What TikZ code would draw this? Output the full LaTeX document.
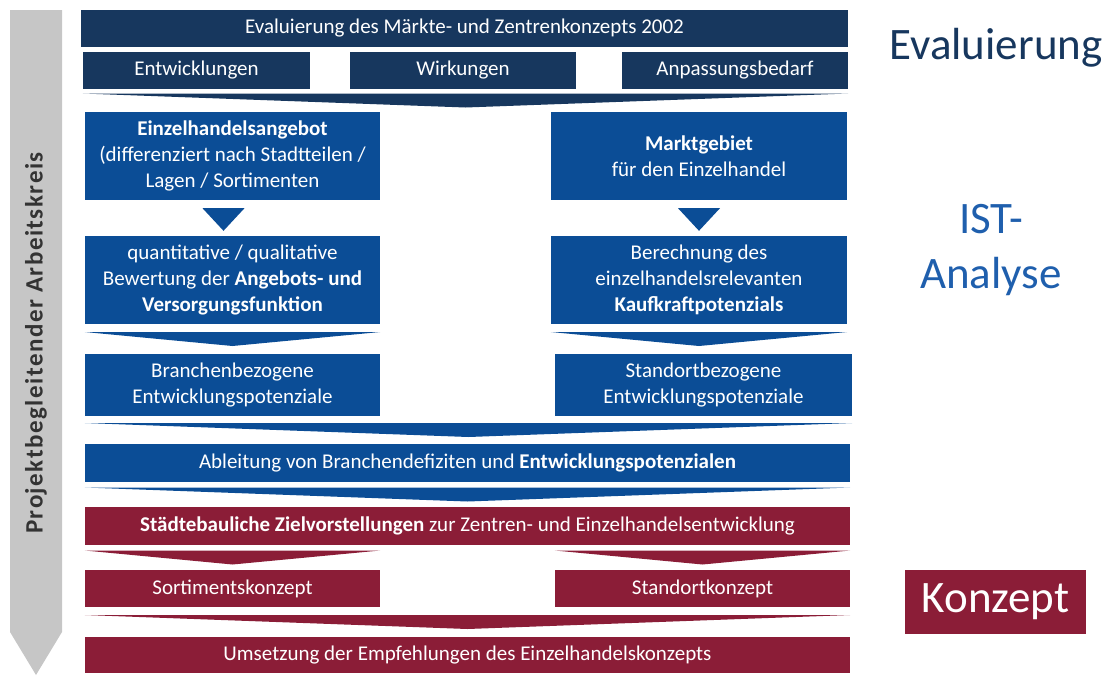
\documentclass[tikz,border=0pt]{standalone}
\usepackage{fontspec}
\setmainfont{Carlito}
\usepackage{tikz}
\usetikzlibrary{calc}

\definecolor{evalblue}{HTML}{17375E}
\definecolor{istblue}{HTML}{0B4D96}
\definecolor{isttext}{HTML}{1F5FAD}
\definecolor{konzred}{HTML}{8B1D37}
\definecolor{arrowgrey}{HTML}{C6C6C6}

% chevron: colour, left node, right node (x extent), upper node, lower node
\newcommand{\chev}[5]{%
  \path (#2.west |- #4.south) coordinate (ca) (#3.east |- #4.south) coordinate (cb)
        (#2.west |- #5.north) coordinate (cc) (#3.east |- #5.north) coordinate (cd);
  \fill[#1] ($(ca)!.5!(cc)+(0,-7)$) -- ($(cb)!.5!(cd)+(0,-7)$) -- ($(ca)!.5!(cd)+(0,7)$) -- cycle;}
% small triangle between two boxes, with x offset
\newcommand{\tri}[3]{%
  \fill[istblue] ([xshift=#3-21pt,yshift=-8pt]#1.south) -- ([xshift=#3+21pt,yshift=-8pt]#1.south)
        -- ([xshift=#3,yshift=5pt]#2.north) -- cycle;}

\begin{document}
\begin{tikzpicture}[x=1pt,y=-1pt,
    box/.style={fill=#1, text=white, inner sep=0pt, align=center, font=\fontsize{21}{26}\selectfont},
    big/.style={font=\fontsize{45}{55}\selectfont, align=center, inner sep=0pt}]
  \useasboundingbox (0,0) rectangle (1106,675);
  \fill[arrowgrey] (10,10) -- (62,10) -- (62,632) -- (36,675) -- (10,632) -- cycle;
  \node[rotate=90, font=\fontsize{25}{30}\selectfont\bfseries\addfontfeatures{LetterSpace=6}, text=black!80] (ak) at (36,343) {Projektbegleitender Arbeitskreis};

  \node[box=evalblue, minimum width=767, minimum height=37] (eval) at (464.5,28.5) {Evaluierung des Märkte- und Zentrenkonzepts 2002};
  \node[box=evalblue, minimum width=227, minimum height=37] (ent) at (196.5,70.5) {Entwicklungen};
  \node[box=evalblue, minimum width=226, minimum height=37] (wir) at (463,70.5) {Wirkungen};
  \node[box=evalblue, minimum width=226, minimum height=37] (anp) at (735,70.5) {Anpassungsbedarf};

  \node[box=istblue, minimum width=295, minimum height=88] (ange) at (232.5,156) {\textbf{Einzelhandelsangebot}\\(differenziert nach Stadtteilen /\\Lagen / Sortimenten};
  \node[box=istblue, minimum width=296, minimum height=88] (mark) at (699,156) {\textbf{Marktgebiet}\\für den Einzelhandel};
  \node[box=istblue, minimum width=295, minimum height=88] (quant) at (232.5,280) {quantitative / qualitative\\Bewertung der \textbf{Angebots- und}\\\textbf{Versorgungsfunktion}};
  \node[box=istblue, minimum width=296, minimum height=88] (bere) at (699,280) {Berechnung des\\einzelhandelsrelevanten\\\textbf{Kaufkraftpotenzials}};
  \node[box=istblue, minimum width=295, minimum height=62] (bran) at (232.5,385) {Branchenbezogene\\Entwicklungspotenziale};
  \node[box=istblue, minimum width=297, minimum height=62] (stan) at (703.5,385) {Standortbezogene\\Entwicklungspotenziale};
  \node[box=istblue, minimum width=765, minimum height=38] (abl) at (467.5,463) {Ableitung von Branchendefiziten und \textbf{Entwicklungspotenzialen}};

  \node[box=konzred, minimum width=765, minimum height=38] (stb) at (467.5,526) {\textbf{Städtebauliche Zielvorstellungen} zur Zentren- und Einzelhandelsentwicklung};
  \node[box=konzred, minimum width=295, minimum height=37] (sort) at (232.5,588.5) {Sortimentskonzept};
  \node[box=konzred, minimum width=295, minimum height=37] (skon) at (702.5,588.5) {Standortkonzept};
  \node[box=konzred, minimum width=765, minimum height=36] (umse) at (467.5,655) {Umsetzung der Empfehlungen des Einzelhandelskonzepts};

  \chev{evalblue}{ent}{anp}{ent}{ange}
  \tri{ange}{quant}{-9pt}
  \tri{mark}{bere}{0pt}
  \chev{istblue}{quant}{quant}{quant}{bran}
  \chev{istblue}{bere}{bere}{bere}{stan}
  \chev{istblue}{bran}{stan}{bran}{abl}
  \chev{istblue}{abl}{abl}{abl}{stb}
  \chev{konzred}{sort}{sort}{stb}{sort}
  \chev{konzred}{skon}{skon}{stb}{skon}
  \chev{konzred}{sort}{skon}{sort}{umse}

  \node[big, text=evalblue] (leval) at (996,48) {Evaluierung};
  \node[big, text=isttext] (list) at (991,250) {IST-\\Analyse};
  \node[big, box=konzred, font=\fontsize{45}{55}\selectfont, minimum width=181, minimum height=64] (lkon) at (995.5,602) {Konzept};
\end{tikzpicture}
\end{document}
